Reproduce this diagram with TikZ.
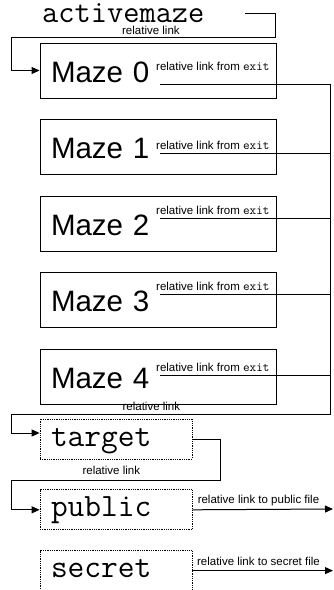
\documentclass[tikz,border=0pt]{standalone}
\usepackage{fontspec}
\setmainfont{Liberation Sans}
\usetikzlibrary{arrows.meta}
\usetikzlibrary{positioning}
\newcommand{\exitfont}{\ttfamily\fontsize{12.8}{13}\selectfont}
\newcommand{\bigmono}{\ttfamily\fontsize{32.5}{33}\selectfont}
\tikzstyle{mazebox} = [draw, rectangle, line width=1pt,
    minimum width=236pt, minimum height=55pt, inner xsep=11pt, inner ysep=0pt,
    text width=214pt, align=left, text height=25pt, text depth=2pt,
    font=\fontsize{29.5}{30}\selectfont]
\tikzstyle{filebox} = [draw, densely dotted, rectangle, line width=0.8pt,
    minimum width=152pt, minimum height=40pt, inner xsep=11pt, inner ysep=0pt,
    text width=130pt, align=left, text height=18pt, text depth=4pt,
    font=\bigmono]

\begin{document}
\begin{tikzpicture}[x=1pt,y=1pt]

\tikzset{conn/.style={line width=1pt}, arr/.style={-{Triangle[length=8pt,width=7pt]}}}
\tikzstyle{lnk} = [font=\fontsize{11.5}{12}\selectfont, inner sep=0pt, text depth=0pt]
\useasboundingbox (0,0) rectangle (333,-590);

\node[anchor=base west, inner sep=0pt, font=\ttfamily\fontsize{31.5}{32}\selectfont] (am) at (42,-22) {activemaze};

% the mazes
\node[mazebox] (maze0) at (158,-70.5) {Maze 0};
\node[mazebox, below=20.5pt of maze0] (maze1) {Maze 1};
\node[mazebox, below=20.5pt of maze1] (maze2) {Maze 2};
\node[mazebox, below=20.5pt of maze2] (maze3) {Maze 3};
\node[mazebox, below=20.5pt of maze3] (maze4) {Maze 4};

\node[lnk, anchor=base west] (lk0) at (156,-70) {relative link from {\exitfont exit}};
\node[lnk, anchor=base west] (lk1) at (156,-149) {relative link from {\exitfont exit}};
\node[lnk, anchor=base west] (lk2) at (156,-214) {relative link from {\exitfont exit}};
\node[lnk, anchor=base west] (lk3) at (156,-290) {relative link from {\exitfont exit}};
\node[lnk, anchor=base west] (lk4) at (156,-371) {relative link from {\exitfont exit}};

% the files
\node[filebox] (target) at (116,-439) {target};
\node[filebox, below=30pt of target] (public) {public};
\node[filebox, below=20pt of public] (secret) {secret};

\coordinate (amout) at (245,-13);
\coordinate (ex0) at (160,-84);
\coordinate (ex1) at (160,-153);
\coordinate (ex2) at (160,-218);
\coordinate (ex3) at (160,-294);
\coordinate (ex4) at (160,-375);
\coordinate (trunk) at (330,-414);
\coordinate (pubout) at (333,-509);

\draw[conn,arr] (amout) -| (275,-37) -- node[lnk,above=2pt,pos=.47] {relative link} (11,-37) |- (maze0.west);

\draw[conn,arr] (ex0) -| (trunk) -- node[lnk,above=3pt,pos=.56] {relative link} (11,-414) |- ([yshift=6pt]target.west);
\draw[conn] (ex1) -- (ex1 -| trunk);
\draw[conn] (ex2) -- (ex2 -| trunk);
\draw[conn] (ex3) -- (ex3 -| trunk);
\draw[conn] (ex4) -- (ex4 -| trunk);

\draw[conn,arr] (target.east) -| (220,-480) -- node[lnk,above=5pt,pos=.52] {relative link} (11,-480) |- (public.west);

\draw[conn,arr] (public.east) -- node[lnk,above=5pt,pos=.47] {relative link to public file} (pubout);
\draw[conn,arr] (secret.east) -- node[lnk,above=5pt,pos=.47] {relative link to secret file} (secret.east -| pubout);

\end{tikzpicture}
\end{document}
